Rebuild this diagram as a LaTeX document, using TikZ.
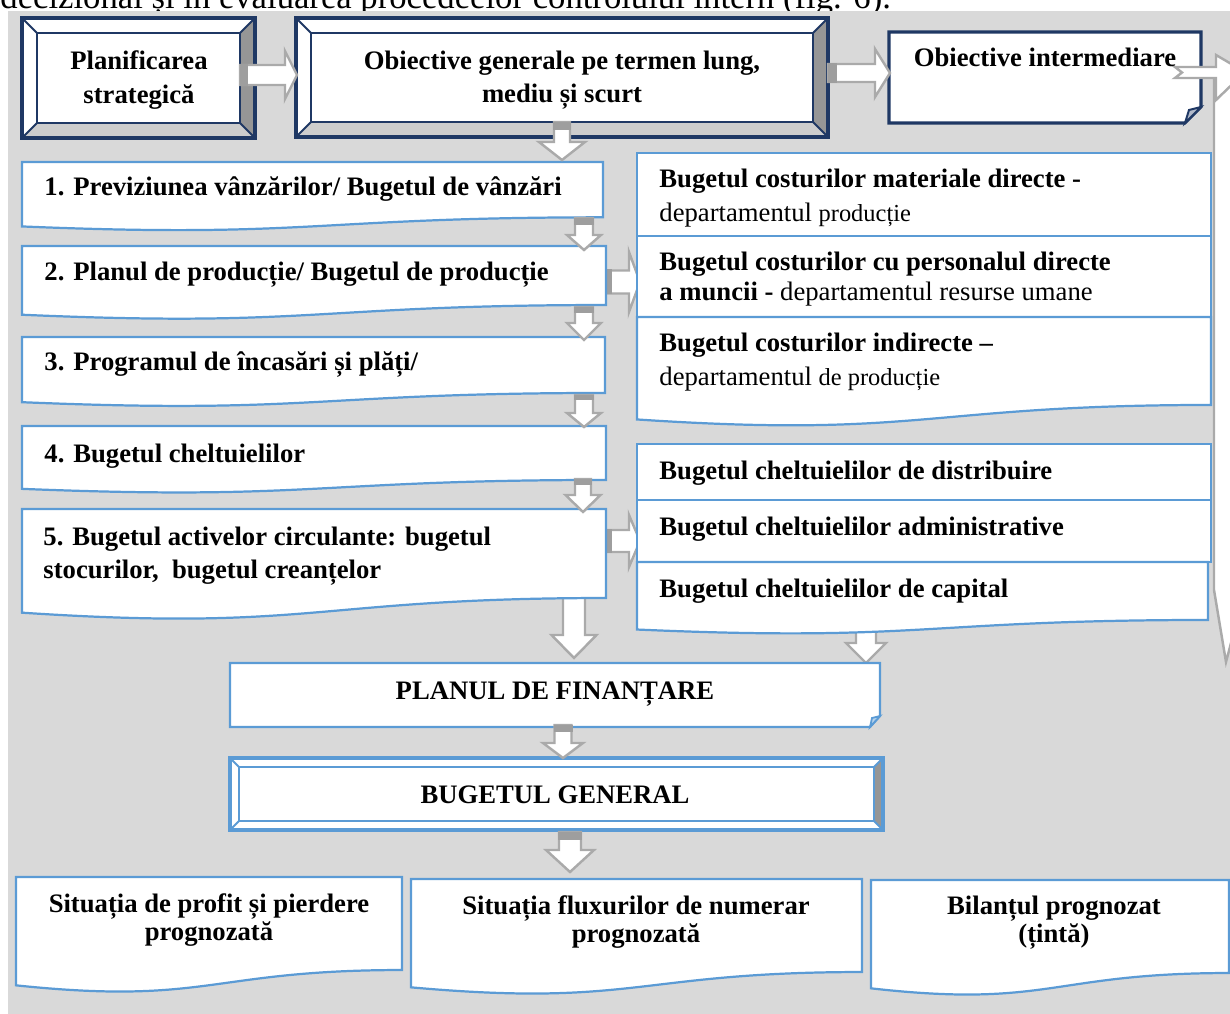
\documentclass[tikz,border=0pt]{standalone}
\usepackage{fontspec}
\setmainfont{Liberation Serif}
\definecolor{bgc}{RGB}{217,217,217}
\definecolor{navy}{RGB}{31,56,100}
\definecolor{lblue}{RGB}{91,155,213}
\definecolor{agray}{RGB}{170,170,170}
\definecolor{dface}{RGB}{150,150,150}
\definecolor{lface}{RGB}{205,205,205}
\definecolor{stubc}{RGB}{158,158,158}
\tikzset{
  arrowshape/.style={fill=white,draw=agray,line width=1.1pt,line join=miter},
  bluebox/.style={fill=white,draw=lblue,line width=1pt},
  lbl/.style={inner sep=0pt,font=\bfseries\fontsize{12}{15}\selectfont},
}
% bevel box: x1 y1 x2 y2 inset linecolour rightface bottomface
\newcommand{\bevelbox}[8]{%
  \fill[white] (#1,#2) rectangle (#3,#4);
  \fill[#7] (#3,#2) -- (#3,#4) -- ({#3-#5},{#4-#5}) -- ({#3-#5},{#2+#5}) -- cycle;
  \fill[#8] (#1,#4) -- (#3,#4) -- ({#3-#5},{#4-#5}) -- ({#1+#5},{#4-#5}) -- cycle;
  \draw[#6,line width=0.9pt] ({#1+#5},{#2+#5}) rectangle ({#3-#5},{#4-#5});
  \draw[#6,line width=0.9pt] (#1,#2) -- ({#1+#5},{#2+#5}) (#3,#2) -- ({#3-#5},{#2+#5})
     (#3,#4) -- ({#3-#5},{#4-#5}) (#1,#4) -- ({#1+#5},{#4-#5});
  \draw[#6,line width=1.4pt] (#1,#2) rectangle (#3,#4);
}
% document shape: x1 y1 x2 h
\newcommand{\docbox}[4]{%
  \path[bluebox] (#1,#2) -- (#3,#2) -- (#3,{#2+0.802*#4})
    .. controls ({(#1+#3)/2},{#2+0.802*#4}) and ({(#1+#3)/2},{#2+1.1075*#4}) ..
    (#1,{#2+0.934*#4}) -- cycle;
}
% down arrow: cx ytail yhead ytip shafthalf headhalf stublength
\newcommand{\darrow}[7]{%
  \path[arrowshape] ({#1-#5},#2) -- ({#1+#5},#2) -- ({#1+#5},#3) -- ({#1+#6},#3)
     -- (#1,#4) -- ({#1-#6},#3) -- ({#1-#5},#3) -- cycle;
  \fill[stubc] ({#1-#5-1},#2) rectangle ({#1+#5+1},{#2+#7});
}
% right arrow: cy xtail xhead xtip shafthalf headhalf stublength
\newcommand{\rarrow}[7]{%
  \path[arrowshape] (#2,{#1-#5}) -- (#3,{#1-#5}) -- (#3,{#1-#6}) -- (#4,#1)
     -- (#3,{#1+#6}) -- (#3,{#1+#5}) -- (#2,{#1+#5}) -- cycle;
  \fill[stubc] (#2,{#1-#5-1}) rectangle ({#2+#7},{#1+#5+1});
}
\begin{document}
\begin{tikzpicture}[x=0.45pt,y=-0.45pt]
\useasboundingbox (0,0) rectangle (1230,1014);
\clip (0,0) rectangle (1230,1014);
\fill[white] (0,0) rectangle (1230,1014);
\node[anchor=base west,inner sep=0pt,font=\fontsize{15.6}{18}\selectfont] (intro) at (0,9)
  {decizional și în evaluarea procedeelor controlului intern (fig. 6).};
\fill[bgc] (8,11) rectangle (1240,1020);

% ---------- arrows drawn below boxes ----------
\darrow{574}{585}{635}{658}{11}{22.5}{0}
\darrow{866}{615}{643}{663}{10}{20}{0}
\rarrow{282}{603}{629}{640}{11.5}{30}{9}
\rarrow{541}{603}{629}{640}{11}{26}{9}

% ---------- top row ----------
\bevelbox{22}{18}{255}{138}{15}{navy}{dface}{lface}
\bevelbox{296}{18}{828}{137}{15}{navy}{dface}{lface}
\path[fill=white,draw=navy,line width=1.4pt] (889,32) -- (1201,32) -- (1201,107) -- (1185,123) -- (889,123) -- cycle;
\path[fill=navy!35,draw=navy,line width=0.9pt] (1185,123) -- (1189,110) -- (1201,107) -- cycle;

% right edge arrows
\path[arrowshape] (1214,80) -- (1214,590) -- (1226,662) -- (1245,590) -- (1245,80) -- cycle;
\path[arrowshape] (1175,67) -- (1216,67) -- (1216,55) -- (1245,72) -- (1216,100) -- (1216,78) -- (1175,78) -- (1182,72.5) -- cycle;

% ---------- left column ----------
\docbox{22}{162}{603}{69}
\docbox{22}{246}{606}{73.6}
\docbox{22}{337}{605}{69.8}
\docbox{22}{426}{606}{67.3}
\docbox{22}{509}{606}{111}

% ---------- right groups ----------
\draw[bluebox] (637,153) rectangle (1211,236);
\draw[bluebox] (637,236) rectangle (1211,317);
\docbox{637}{317}{1211}{109.7}
\draw[bluebox] (637,444) rectangle (1211,500);
\draw[bluebox] (637,500) rectangle (1211,562);
\docbox{637}{562}{1208}{72.3}

% ---------- centre ----------
\path[bluebox] (230,663) -- (880,663) -- (880,716) -- (870,727) -- (230,727) -- cycle;
\path[fill=lblue!45,draw=lblue,line width=0.8pt] (870,727) -- (872,718) -- (880,716) -- cycle;
\bevelbox{230}{758}{883}{830}{9}{lblue}{dface}{white}

% ---------- bottom ----------
\docbox{16}{877}{402}{116}
\docbox{411}{879}{862}{116}
\docbox{871}{880}{1229}{116}

% ---------- arrows on top ----------
\rarrow{75}{240}{285}{297}{10}{24}{8}
\rarrow{73}{828}{875}{890}{9}{24}{9}
\darrow{562}{122}{142}{160}{8}{23}{8}
\darrow{584}{218}{235}{250}{9}{17}{7}
\darrow{584}{307}{323}{340}{9}{17}{6}
\darrow{584}{395}{413}{427}{9}{17}{5}
\darrow{583}{479}{495}{512}{8}{17.5}{6}
\darrow{563}{725}{743}{758}{8.5}{20}{7}
\darrow{570}{832}{850}{872}{11}{24}{8}

% ---------- texts ----------
\node[lbl,anchor=base,font=\bfseries\fontsize{12}{15.3}\selectfont] (plan) at (139,70)
  {\begin{tabular}[t]{@{}c@{}}Planificarea\\strategică\end{tabular}};
\node[lbl,anchor=base,font=\bfseries\fontsize{12}{14.85}\selectfont] (obg) at (562,70)
  {\begin{tabular}[t]{@{}c@{}}Obiective generale pe termen lung,\\mediu și scurt\end{tabular}};
\node[lbl,anchor=base] (obi) at (1045,67) {Obiective intermediare};

\node[lbl,anchor=base west] (b1) at (44,196) {1. Previziunea vânzărilor/ Bugetul de vânzări};
\node[lbl,anchor=base west] (b2) at (44,281) {2. Planul de producție/ Bugetul de producție};
\node[lbl,anchor=base west] (b3) at (44,371) {3. Programul de încasări și plăți/};
\node[lbl,anchor=base west] (b4) at (44,462) {4. Bugetul cheltuielilor};
\node[lbl,anchor=base west,font=\bfseries\fontsize{12}{14.85}\selectfont] (b5) at (43,545)
  {\begin{tabular}[t]{@{}l@{}}5. Bugetul activelor circulante: bugetul\\stocurilor,\ \ bugetul creanțelor\end{tabular}};

\node[lbl,anchor=base west,font=\fontsize{12}{15.3}\selectfont] (r1) at (659,188)
  {\begin{tabular}[t]{@{}l@{}}\textbf{Bugetul costurilor materiale directe -}\\departamentul {\fontsize{11}{15.3}\selectfont producție}\end{tabular}};
\node[lbl,anchor=base west,font=\fontsize{12}{13.5}\selectfont] (r2) at (659,271)
  {\begin{tabular}[t]{@{}l@{}}\textbf{Bugetul costurilor cu personalul directe}\\\textbf{a muncii -} departamentul resurse umane\end{tabular}};
\node[lbl,anchor=base west,font=\fontsize{12}{15.3}\selectfont] (r3) at (659,352)
  {\begin{tabular}[t]{@{}l@{}}\textbf{Bugetul costurilor indirecte –}\\departamentul {\fontsize{11}{15.3}\selectfont de producție}\end{tabular}};

\node[lbl,anchor=base west] (r4) at (659,479) {Bugetul cheltuielilor de distribuire};
\node[lbl,anchor=base west] (r5) at (659,535) {Bugetul cheltuielilor administrative};
\node[lbl,anchor=base west] (r6) at (659,597) {Bugetul cheltuielilor de capital};

\node[lbl,anchor=base] (fin) at (555,699) {PLANUL DE FINANȚARE};
\node[lbl,anchor=base] (gen) at (555,803) {BUGETUL GENERAL};

\node[lbl,anchor=base,font=\bfseries\fontsize{12}{12.6}\selectfont] (s1) at (209,912)
  {\begin{tabular}[t]{@{}c@{}}Situația de profit și pierdere\\prognozată\end{tabular}};
\node[lbl,anchor=base,font=\bfseries\fontsize{12}{12.6}\selectfont] (s2) at (636,914)
  {\begin{tabular}[t]{@{}c@{}}Situația fluxurilor de numerar\\prognozată\end{tabular}};
\node[lbl,anchor=base,font=\bfseries\fontsize{12}{12.6}\selectfont] (s3) at (1054,914)
  {\begin{tabular}[t]{@{}c@{}}Bilanțul prognozat\\(țintă)\end{tabular}};
\end{tikzpicture}
\end{document}
